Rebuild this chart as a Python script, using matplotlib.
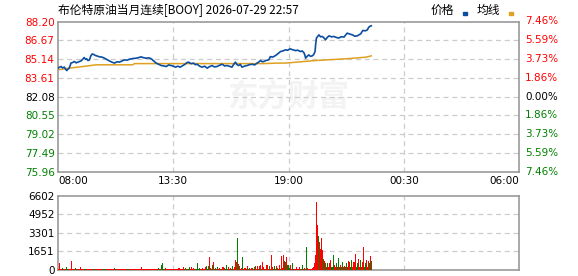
import matplotlib
matplotlib.use('Agg')
import matplotlib.pyplot as plt
from matplotlib.patches import Rectangle
from matplotlib.transforms import blended_transform_factory

plt.rcParams['font.family'] = ['DejaVu Sans']
CJK = ['Noto Sans CJK SC', 'DejaVu Sans']

# ---------------- data ----------------
title = '布伦特原油当月连续[BOOY] 2026-07-29 22:57'
legend_labels = ['价格', '均线']
watermark = '东方财富'
x_tick_minutes = [0, 330, 660, 990, 1320]           # minutes after 08:00
x_tick_labels = ['08:00', '13:30', '19:00', '00:30', '06:00']
y_ticks = [75.96, 77.49, 79.02, 80.55, 82.08, 83.61, 85.14, 86.67, 88.20]
pct_labels = ['7.46%', '5.59%', '3.73%', '1.86%', '0.00%', '1.86%', '3.73%', '5.59%', '7.46%']
vol_ticks = [0, 1651, 3301, 4952, 6602]

price_t = [0, 4, 9, 13, 18, 21, 25, 28, 32, 35, 37, 42, 47, 52, 57, 62, 66, 70, 75, 79,
           82, 86, 90, 94, 98, 103, 107, 113, 119, 126, 133, 140, 147, 155, 162, 169, 176, 183,
           190, 198, 205, 214, 224, 231, 238, 246, 253, 260, 267, 274, 281, 289, 296, 303, 310,
           317, 324, 331, 337, 343, 350, 357, 364, 369, 374, 381, 388, 393, 398, 405, 412, 420,
           427, 434, 441, 448, 455, 463, 470, 477, 484, 491, 498, 503, 508, 512, 517, 522, 527,
           534, 541, 548, 556, 563, 570, 575, 580, 585, 589, 596, 603, 606, 608, 615, 623, 630,
           637, 644, 651, 658, 664, 672, 680, 687, 694, 699, 704, 707, 709, 713, 718, 723, 728,
           732, 736, 738, 740, 744, 747, 752, 757, 762, 766, 771, 776, 783, 790, 797, 804, 811,
           819, 824, 828, 835, 843, 850, 857, 862, 867, 870, 873, 880, 886, 888, 890, 894, 897]
price_v = [84.40, 84.47, 84.53, 84.42, 84.48, 84.35, 84.20, 84.30, 84.40, 84.62, 84.81, 84.86,
           84.94, 84.83, 84.89, 84.95, 84.99, 85.10, 85.26, 85.12, 85.16, 85.02, 85.07, 85.40,
           85.56, 85.50, 85.43, 85.38, 85.32, 85.30, 85.21, 85.10, 84.99, 84.88, 84.81, 84.92,
           84.89, 84.98, 85.07, 85.05, 85.13, 85.18, 85.21, 85.26, 85.32, 85.24, 85.21, 85.24,
           85.16, 84.98, 84.81, 84.70, 84.61, 84.58, 84.53, 84.66, 84.61, 84.55, 84.48, 84.56,
           84.48, 84.60, 84.72, 84.85, 84.89, 84.76, 84.81, 84.68, 84.72, 84.57, 84.48, 84.56,
           84.40, 84.52, 84.61, 84.50, 84.53, 84.64, 84.72, 84.58, 84.61, 84.55, 84.48, 84.70,
           84.89, 84.70, 84.61, 84.70, 84.48, 84.56, 84.61, 84.68, 84.72, 84.66, 84.81, 84.90,
           85.02, 84.92, 84.94, 85.03, 85.07, 85.20, 85.34, 85.30, 85.43, 85.58, 85.75, 85.80,
           85.89, 85.86, 85.97, 85.90, 85.83, 85.86, 85.75, 85.80, 85.67, 85.45, 85.21, 85.35,
           85.48, 85.36, 85.40, 85.50, 85.75, 86.40, 86.85, 87.00, 87.11, 86.95, 86.98, 86.85,
           86.71, 86.90, 87.03, 86.95, 86.98, 86.90, 86.85, 86.96, 86.93, 87.10, 87.25, 87.18,
           87.11, 87.00, 87.03, 87.12, 87.20, 87.35, 87.47, 87.44, 87.52, 87.65, 87.74, 87.82,
           87.85]

avg_t = [0, 32, 71, 109, 214, 219, 339, 590, 626, 651, 737, 824, 881, 897]
avg_v = [84.26, 84.40, 84.53, 84.67, 84.67, 84.77, 84.77, 84.77, 84.81, 84.81, 85.02, 85.16,
         85.29, 85.40]

# volume per 3-minute bar starting 08:00 (300 bars), and direction r=up g=down
vol_step = 3
volume = [
    110, 600, 110, 110, 150, 110, 110, 110, 300, 110, 110, 110, 775, 110, 110, 110, 150, 110, 110, 110,
    110, 300, 110, 110, 110, 110, 110, 110, 110, 110, 110, 110, 110, 110, 110, 110, 110, 110, 110, 110,
    110, 110, 110, 110, 110, 110, 110, 110, 110, 110, 110, 110, 110, 150, 110, 110, 110, 110, 110, 110,
    110, 110, 110, 110, 110, 110, 110, 110, 110, 110, 110, 110, 110, 110, 110, 110, 110, 110, 110, 250,
    110, 110, 110, 110, 110, 110, 110, 110, 110, 110, 110, 110, 110, 110, 110, 200, 110, 110, 475, 650,
    110, 110, 150, 110, 110, 110, 110, 110, 110, 110, 110, 110, 110, 110, 110, 150, 110, 110, 110, 250,
    110, 150, 110, 110, 110, 250, 110, 300, 110, 150, 110, 110, 110, 595, 110, 180, 110, 180, 110, 110,
    250, 385, 120, 385, 1130, 150, 110, 450, 685, 110, 150, 110, 250, 110, 150, 110, 110, 250, 180, 110,
    475, 110, 250, 110, 180, 110, 400, 120, 250, 920, 720, 2825, 540, 330, 110, 180, 1130, 110, 180, 110,
    330, 110, 180, 120, 180, 150, 110, 250, 330, 110, 385, 120, 330, 475, 110, 685, 250, 120, 110, 450,
    120, 385, 110, 1365, 250, 110, 330, 120, 330, 150, 110, 450, 110, 1220, 150, 1365, 830, 685, 1130, 450,
    150, 475, 110, 595, 100, 100, 110, 250, 100, 100, 250, 100, 110, 450, 100, 200, 110, 2080, 200, 100,
    110, 100, 150, 300, 650, 1340, 6065, 4015, 3030, 2525, 1900, 2825, 1785, 950, 830, 650, 300, 595, 300, 650,
    890, 300, 1340, 450, 250, 595, 300, 1040, 250, 450, 300, 740, 250, 350, 300, 595, 300, 830, 740, 300,
    890, 300, 740, 1430, 300, 595, 950, 300, 890, 300, 740, 2020, 300, 595, 890, 300, 830, 595, 1250, 830,
]
vol_dir = ("rrrrgrrrggrrrrrrggrr" "rrrrrggrrrrrrggrrrrr" "rrrgggrrrrrrrgrrrrrr"
           "rrrrrrggrrrrrrrrrrrr" "rrrrrrrrrrrrrrrgrrgg" "ggrrrrrrrrrrrrrrrrrr"
           "rggrggrrrrrgggggrrrr" "rgggrrggrrgrgrrgrrgr" "ggrrrggrrrrgrgrrgrrg"
           "rrgrrgrrgrrgrrgrrrgr" "rgrrrggrrgrrgrrrgrrg" "grrgrrrrrrrrggrrggrr"
           "rrrrrrrrgrrrrgrgrgrr" "rggrrgrgrrggrrggrrrg" "grrrggrrgrrrggrrrgrg")

# ---------------- styling ----------------
RED = '#FF0000'
GREEN = '#008000'
BLUE = '#0B4EA0'
ORANGE = '#E0A020'
SPINE = '#999999'
GRID = '#CCCCCC'

W, H = 578, 276
fig = plt.figure(figsize=(W / 100, H / 100), dpi=100)
fig.patch.set_facecolor('white')


def fx(px):
    return px / W


def fy(py):
    return 1 - py / H


L, R = 58, 519
ax = fig.add_axes([fx(L), fy(171.7), fx(R - L), fy(21.5) - fy(171.7)])
axv = fig.add_axes([fx(L), fy(270), fx(R - L), fy(196) - fy(270)])

for a in (ax, axv):
    a.set_xlim(x_tick_minutes[0], x_tick_minutes[-1])
    for s in a.spines.values():
        s.set_color(SPINE)
        s.set_linewidth(1.2)
    a.tick_params(length=0)
    for xm in x_tick_minutes[1:-1]:
        a.axvline(xm, color=GRID, lw=0.9, ls=(0, (4, 3)), zorder=0)

# watermark
ax.text(0.5, 0.5, watermark, transform=ax.transAxes, ha='center', va='center',
        fontsize=22, color='#F3F3F3', family=CJK, fontweight='bold', style='italic', zorder=0)

# main panel
ax.set_ylim(y_ticks[0], y_ticks[-1])
for yv in y_ticks[1:-1]:
    ax.axhline(yv, color=GRID, lw=0.9, ls=(0, (4, 3)), zorder=0)
ax.plot(avg_t, avg_v, color=ORANGE, lw=1.1, zorder=2)
ax.plot(price_t, price_v, color=BLUE, lw=1.2, zorder=3)

ax.set_yticks(y_ticks)
ax.set_yticklabels([f'{v:.2f}' for v in y_ticks], fontsize=7.5)
mid = len(y_ticks) // 2
for i, lab in enumerate(ax.get_yticklabels()):
    lab.set_color(GREEN if i < mid else ('black' if i == mid else RED))
ax.tick_params(axis='y', pad=2.5)

tr = blended_transform_factory(ax.transAxes, ax.transData)
for i, (yv, pl) in enumerate(zip(y_ticks, pct_labels)):
    c = GREEN if i < mid else ('black' if i == mid else RED)
    ax.text(1 + 6 / (R - L), yv, pl, transform=tr, ha='left', va='center',
            fontsize=7.5, color=c)

ax.set_xticks(x_tick_minutes)
ax.set_xticklabels(x_tick_labels, fontsize=7.5)
ax.tick_params(axis='x', pad=3)
xl = ax.get_xticklabels()
xl[0].set_ha('left')
xl[-1].set_ha('right')

# volume panel
cols = [RED if d == 'r' else GREEN for d in vol_dir]
vol_x = [i * vol_step + vol_step / 2 for i in range(len(volume))]
axv.set_ylim(vol_ticks[0], vol_ticks[-1])
axv.bar(vol_x, volume, width=vol_step, color=cols, linewidth=0, antialiased=False, zorder=3)
for yv in vol_ticks[1:-1]:
    axv.axhline(yv, color=GRID, lw=0.9, ls=(0, (4, 3)), zorder=0)
axv.set_yticks(vol_ticks)
axv.set_yticklabels([str(v) for v in vol_ticks], fontsize=7.5, color='black')
axv.tick_params(axis='y', pad=2.5)
axv.set_xticks([])

# title and legend
fig.text(fx(58), fy(10), title, ha='left', va='center', fontsize=8.5, family=CJK)
fig.text(fx(431), fy(10), legend_labels[0], ha='left', va='center', fontsize=8.5, family=CJK)
fig.text(fx(477), fy(10), legend_labels[1], ha='left', va='center', fontsize=8.5, family=CJK)
fig.patches.append(Rectangle((fx(462.5), fy(14.5)), fx(4), fy(12) - fy(14.5),
                             transform=fig.transFigure, color=BLUE, figure=fig))
fig.patches.append(Rectangle((fx(508.5), fy(14.5)), fx(4), fy(12) - fy(14.5),
                             transform=fig.transFigure, color=ORANGE, figure=fig))

fig.savefig('out.png', dpi=100, facecolor='white')
